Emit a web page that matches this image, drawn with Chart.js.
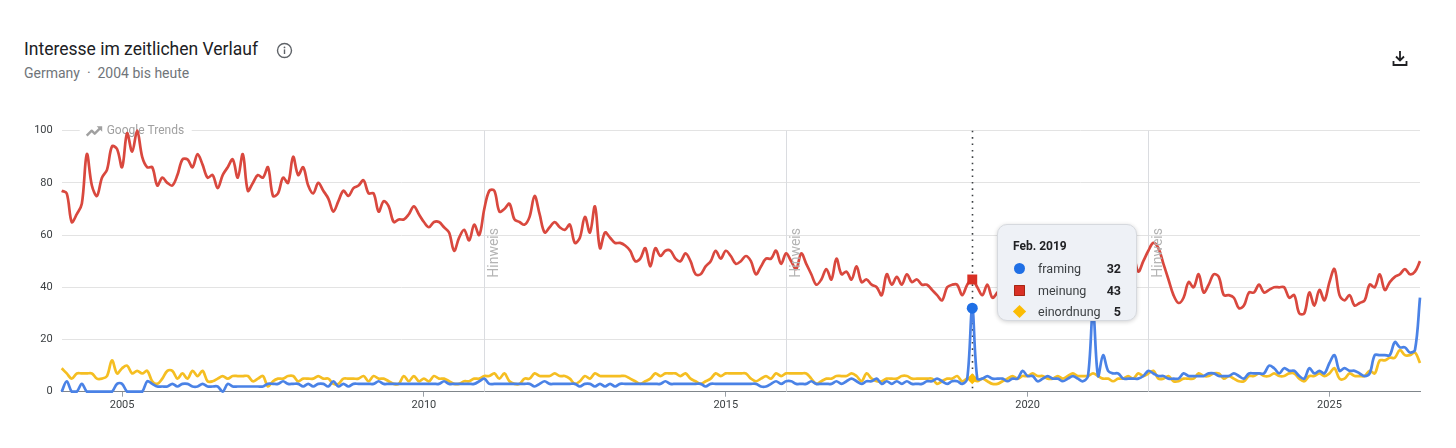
<!DOCTYPE html>
<html lang="de">
<head>
<meta charset="utf-8">
<title>Interesse im zeitlichen Verlauf</title>
<script src="https://cdn.jsdelivr.net/npm/chart.js@4.4.1/dist/chart.umd.min.js"></script>
<style>
  html, body { margin: 0; padding: 0; background: #fff; }
  body { width: 1456px; height: 448px; position: relative; overflow: hidden; font-family: Roboto, "Noto Sans", Arial, sans-serif; }
  #title { position: absolute; left: 24px; top: 39px; font-size: 17.5px; font-weight: 400; color: #202124; white-space: nowrap; }
  #info { position: absolute; left: 276px; top: 42px; }
  #sub { position: absolute; left: 24px; top: 65px; font-size: 14px; color: #70757a; white-space: nowrap; }
  #download { position: absolute; left: 1390px; top: 48px; }
  #wrap { position: absolute; left: 0; top: 100px; width: 1456px; height: 320px; }
  #tip { position: absolute; left: 997px; top: 224px; width: 138px; height: 95px; background: #eef1f6;
         border: 1px solid #d6d9de; border-radius: 10px; box-shadow: 0 1px 4px rgba(0,0,0,0.18); font-size: 12.5px; color: #3c4043; }
  #tip .head { position: absolute; left: 15px; top: 14px; font-weight: 700; font-size: 12px; color: #202124; }
  #tip .row { position: absolute; left: 0; width: 138px; height: 16px; line-height: 16px; }
  #tip .mk { position: absolute; left: 16px; top: 2px; width: 11px; height: 11px; }
  #tip .lb { position: absolute; left: 40px; top: 0; }
  #tip .val { position: absolute; right: 15px; top: 0; font-weight: 700; color: #202124; }
</style>
</head>
<body>
<div id="title">Interesse im zeitlichen Verlauf</div>
<svg id="info" width="17" height="17" viewBox="0 0 17 17">
  <circle cx="8.5" cy="8.5" r="7" fill="none" stroke="#5f6368" stroke-width="1.4"/>
  <rect x="7.8" y="7.4" width="1.4" height="4.6" fill="#5f6368"/>
  <circle cx="8.5" cy="5.4" r="0.9" fill="#5f6368"/>
</svg>
<div id="sub">Germany&nbsp;&nbsp;·&nbsp;&nbsp;2004 bis heute</div>
<svg id="download" width="20" height="20" viewBox="0 0 20 20">
  <path d="M10 3 V12 M6 8.5 L10 12.5 L14 8.5" fill="none" stroke="#202124" stroke-width="1.8"/>
  <path d="M3.5 13 V17 H16.5 V13" fill="none" stroke="#202124" stroke-width="1.8"/>
</svg>
<div id="wrap"><canvas id="trendChart"></canvas></div>
<div id="tip"></div>

<script>
// monthly values, Jan 2004 .. Jul 2026
const startYear = 2004;
const markIndex = 181;        // Feb. 2019
const markLabel = "Feb. 2019";
const seriesNames = ["framing", "meinung", "einordnung"];
const xTickYears = [2005, 2010, 2015, 2020, 2025];
const yTicks = [0, 20, 40, 60, 80, 100];
const noteYears = [2011, 2016, 2022];
const noteText = "Hinweis";

const framing = [
  0, 4, 0, 0, 3, 0, 0, 0, 0, 0, 0, 3, 3, 0, 0, 0, 0, 4, 3, 2,
  2, 2, 3, 2, 3, 3, 2, 2, 3, 2, 2, 2, 0, 3, 2, 2, 2, 2, 2, 2,
  2, 3, 3, 3, 4, 3, 3, 3, 2, 3, 2, 3, 3, 2, 4, 2, 3, 2, 3, 3,
  3, 3, 3, 4, 3, 3, 3, 3, 3, 3, 3, 3, 3, 3, 3, 3, 4, 3, 3, 3,
  3, 3, 3, 4, 5, 3, 3, 3, 3, 3, 3, 3, 3, 3, 2, 3, 4, 3, 3, 3,
  3, 3, 3, 2, 3, 3, 2, 3, 2, 3, 2, 3, 3, 3, 3, 3, 3, 3, 3, 3,
  4, 3, 3, 3, 3, 3, 3, 3, 2, 3, 3, 3, 3, 3, 3, 3, 3, 3, 3, 2,
  2, 3, 4, 3, 4, 4, 3, 3, 3, 4, 3, 3, 3, 3, 4, 3, 4, 5, 4, 3,
  4, 4, 5, 3, 4, 3, 4, 3, 4, 3, 3, 3, 4, 4, 5, 4, 3, 4, 4, 3,
  5, 32, 5, 5, 6, 5, 5, 5, 4, 5, 5, 8, 6, 6, 4, 5, 6, 5, 5, 4,
  5, 6, 5, 4, 6, 31, 6, 14, 8, 7, 7, 5, 5, 5, 5, 6, 8, 7, 6, 6,
  5, 5, 5, 7, 6, 6, 6, 6, 7, 7, 6, 6, 6, 7, 6, 5, 7, 7, 7, 7,
  10, 9, 7, 9, 8, 8, 6, 5, 9, 7, 8, 7, 11, 14, 8, 9, 8, 8, 7, 6,
  7, 14, 14, 14, 14, 19, 17, 17, 15, 16, 36
];

const meinung = [
  77, 76, 65, 68, 72, 91, 79, 75, 82, 85, 94, 93, 86, 99, 92, 100, 90, 86, 86, 79,
  82, 80, 79, 83, 89, 89, 86, 91, 87, 82, 83, 78, 83, 86, 89, 82, 91, 77, 80, 83,
  82, 86, 75, 76, 82, 80, 90, 83, 86, 79, 76, 80, 77, 74, 69, 73, 77, 75, 78, 79,
  81, 76, 76, 69, 73, 71, 65, 66, 66, 68, 71, 68, 65, 63, 65, 65, 63, 61, 54, 59,
  62, 58, 64, 60, 70, 77, 77, 69, 70, 72, 66, 65, 64, 67, 75, 68, 61, 63, 65, 63,
  62, 64, 57, 59, 67, 61, 71, 55, 61, 59, 57, 57, 56, 54, 50, 51, 55, 48, 55, 52,
  54, 54, 51, 50, 53, 50, 45, 45, 48, 50, 54, 51, 54, 52, 49, 50, 52, 50, 45, 48,
  51, 51, 54, 49, 53, 50, 47, 53, 49, 45, 41, 43, 47, 43, 51, 45, 46, 43, 48, 42,
  43, 41, 40, 37, 45, 41, 44, 41, 45, 42, 43, 41, 41, 39, 37, 35, 40, 41, 41, 37,
  41, 43, 40, 37, 41, 36, 38, 40, 42, 39, 41, 44, 40, 42, 45, 43, 41, 44, 46, 42,
  45, 47, 44, 43, 46, 48, 45, 47, 44, 46, 49, 47, 50, 52, 46, 50, 54, 57, 55, 49,
  43, 37, 34, 36, 42, 40, 45, 38, 41, 45, 44, 37, 37, 36, 32, 33, 38, 38, 41, 38,
  39, 40, 40, 40, 36, 37, 30, 30, 38, 33, 39, 35, 42, 47, 37, 35, 37, 33, 34, 35,
  41, 40, 45, 39, 42, 44, 45, 47, 45, 46, 50
];

const einordnung = [
  9, 7, 5, 7, 7, 7, 7, 5, 5, 6, 12, 7, 9, 10, 7, 8, 7, 8, 4, 3,
  5, 8, 8, 5, 7, 5, 8, 6, 8, 4, 4, 5, 6, 5, 6, 6, 6, 6, 4, 5,
  6, 2, 4, 5, 5, 6, 6, 4, 5, 5, 5, 6, 5, 5, 3, 3, 5, 5, 5, 5,
  6, 4, 6, 5, 5, 4, 3, 3, 6, 4, 6, 4, 5, 4, 6, 5, 5, 4, 3, 3,
  4, 4, 5, 5, 6, 6, 7, 5, 7, 4, 3, 3, 5, 5, 7, 6, 6, 6, 7, 6,
  6, 5, 3, 4, 6, 5, 7, 6, 6, 6, 6, 6, 6, 5, 4, 3, 4, 5, 7, 6,
  7, 7, 7, 6, 7, 5, 4, 3, 4, 5, 7, 6, 7, 7, 7, 7, 7, 5, 4, 5,
  6, 5, 7, 6, 7, 7, 7, 7, 7, 5, 3, 4, 5, 5, 6, 6, 6, 7, 6, 4,
  7, 5, 4, 4, 5, 5, 5, 6, 6, 5, 5, 5, 5, 5, 3, 4, 5, 5, 6, 4,
  5, 5, 4, 5, 4, 3, 3, 4, 5, 6, 5, 6, 6, 7, 6, 6, 5, 5, 6, 5,
  6, 7, 6, 6, 6, 7, 6, 5, 5, 4, 5, 5, 6, 5, 7, 6, 7, 8, 5, 5,
  6, 4, 4, 5, 5, 5, 7, 6, 6, 7, 7, 5, 6, 5, 4, 4, 6, 6, 7, 6,
  6, 7, 6, 6, 7, 7, 5, 4, 6, 6, 7, 6, 7, 9, 5, 5, 7, 6, 6, 6,
  8, 7, 12, 12, 13, 13, 16, 14, 14, 15, 11
];

const lineColors = ["#4a82e6", "#d9483e", "#f5be22"];
const markColors = ["#1f6fe5", "#d93025", "#fbbc04"];
const markStyles = ["circle", "rect", "rectRot"];
const markRadius = [5.5, 7, 5.5];
const allSeries = [framing, meinung, einordnung];

const toPoints = arr => arr.map((v, i) => ({ x: startYear + i / 12, y: v }));

// grey note lines, watermark, hover line
const decorPlugin = {
  id: "decor",
  beforeDatasetsDraw(chart) {
    const { ctx, chartArea: a, scales: { x } } = chart;
    ctx.save();
    // "Hinweis" lines
    ctx.strokeStyle = "#dadce0";
    ctx.lineWidth = 1;
    noteYears.forEach(yr => {
      const px = Math.round(x.getPixelForValue(yr)) + 0.5;
      ctx.beginPath(); ctx.moveTo(px, a.top); ctx.lineTo(px, a.bottom); ctx.stroke();
    });
    // Google Trends watermark
    ctx.fillStyle = "#fff";
    ctx.fillRect(a.left + 18, a.top - 7, 112, 14);
    ctx.strokeStyle = "#a0a0a0";
    ctx.lineWidth = 2.4;
    ctx.lineJoin = "round";
    const wx = a.left + 25, wy = a.top;
    ctx.beginPath();
    ctx.moveTo(wx, wy + 5); ctx.lineTo(wx + 5, wy); ctx.lineTo(wx + 8, wy + 3); ctx.lineTo(wx + 14, wy - 3);
    ctx.stroke();
    ctx.beginPath();
    ctx.moveTo(wx + 10, wy - 4.5); ctx.lineTo(wx + 15.5, wy - 4.5); ctx.lineTo(wx + 15.5, wy + 1);
    ctx.closePath(); ctx.fillStyle = "#a0a0a0"; ctx.fill();
    ctx.font = "12px Roboto, 'Noto Sans', sans-serif";
    ctx.fillStyle = "#a0a0a0";
    ctx.textBaseline = "middle";
    ctx.fillText("Google Trends", wx + 20, wy + 0.5);
    // dotted hover line
    const hx = Math.round(x.getPixelForValue(startYear + markIndex / 12)) + 0.5;
    ctx.strokeStyle = "#3c4043";
    ctx.lineWidth = 1.6;
    ctx.setLineDash([1.6, 4.8]);
    ctx.beginPath(); ctx.moveTo(hx, a.top); ctx.lineTo(hx, a.bottom); ctx.stroke();
    ctx.restore();
  },
  afterDatasetsDraw(chart) {
    const { ctx, chartArea: a, scales: { x } } = chart;
    ctx.save();
    ctx.font = "14px Roboto, 'Noto Sans', sans-serif";
    ctx.fillStyle = "#b4b4b4";
    ctx.textAlign = "center";
    ctx.textBaseline = "middle";
    noteYears.forEach(yr => {
      const px = x.getPixelForValue(yr) + 10.5;
      ctx.save();
      ctx.translate(px, a.top + (a.bottom - a.top) * 0.468);
      ctx.rotate(-Math.PI / 2);
      ctx.fillText(noteText, 0, 0);
      ctx.restore();
    });
    ctx.restore();
  }
};

const trendChart = new Chart(document.getElementById("trendChart"), {
  type: "line",
  data: {
    datasets: seriesNames.map((name, k) => ({
      label: name,
      data: toPoints(allSeries[k]),
      borderColor: lineColors[k],
      borderWidth: 2.7,
      tension: 0.35,
      fill: false,
      pointStyle: markStyles[k],
      pointRadius: c => (c.dataIndex === markIndex ? markRadius[k] : 0),
      pointBackgroundColor: markColors[k],
      pointBorderColor: markColors[k],
      pointBorderWidth: 0,
      pointHoverRadius: 0,
      clip: false
    }))
  },
  options: {
    responsive: true,
    maintainAspectRatio: false,
    animation: false,
    events: [],
    layout: { padding: { left: 21.7, right: 36, top: 30.7, bottom: 4.3 } },
    plugins: { legend: { display: false }, tooltip: { enabled: false } },
    scales: {
      x: {
        type: "linear",
        min: startYear,
        max: startYear + (meinung.length - 1) / 12,
        afterBuildTicks: s => { s.ticks = xTickYears.map(v => ({ value: v })); },
        afterFit: s => { s.height = 24; },
        grid: { drawOnChartArea: false, drawTicks: true, tickLength: 5, color: "#9aa0a6" },
        border: { display: true, color: "#80868b", width: 1 },
        ticks: {
          padding: 2, autoSkip: false, maxRotation: 0, color: "#3c4043",
          font: { family: "Roboto", size: 11 },
          callback: v => String(v)
        }
      },
      y: {
        min: 0,
        max: 100,
        afterBuildTicks: s => { s.ticks = yTicks.map(v => ({ value: v })); },
        afterFit: s => { s.width = 40; },
        grid: { color: "#e3e3e3", drawTicks: false },
        border: { display: false },
        ticks: { padding: 9, color: "#3c4043", font: { family: "Roboto", size: 11 } }
      }
    }
  },
  plugins: [decorPlugin]
});

// tooltip box, filled from the series
function buildTip() {
  const tip = document.getElementById("tip");
  const shapes = [
    "border-radius:50%;",
    "border-radius:1px; box-shadow: inset 0 0 0 1px #a52714;",
    "transform: rotate(45deg) scale(0.85);"
  ];
  let html = `<div class="head">${markLabel}</div>`;
  seriesNames.forEach((name, k) => {
    const top = 36 + k * 21.5;
    html += `<div class="row" style="top:${top}px">
      <span class="mk" style="background:${markColors[k]};${shapes[k]}"></span>
      <span class="lb">${name}</span>
      <span class="val">${allSeries[k][markIndex]}</span></div>`;
  });
  tip.innerHTML = html;
}
buildTip();
</script>
</body>
</html>
